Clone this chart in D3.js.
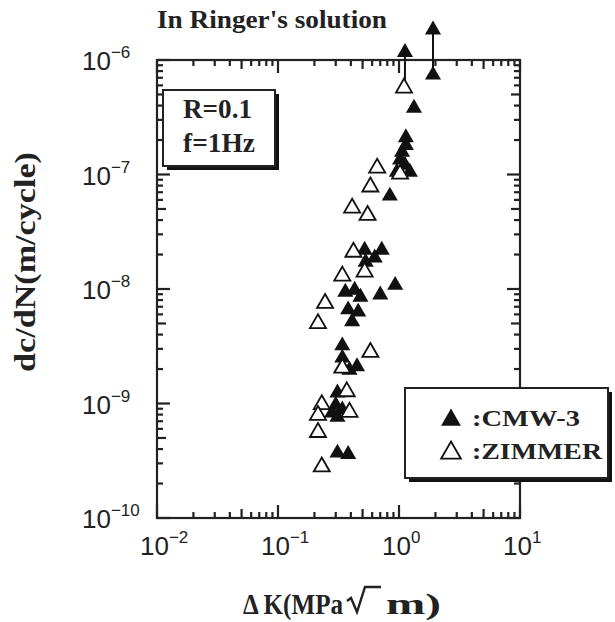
<!DOCTYPE html>
<html>
<head>
<meta charset="utf-8">
<script src="https://cdn.jsdelivr.net/npm/d3@7"></script>
<style>
    body { margin: 0; background: #fff; }
    svg { display: block; }
</style>
</head>
<body>
<svg id="chart" width="615" height="622"></svg>
<script>
/*
 * da/dN vs Delta K plot, log-log
 * CMW-3 (filled) and ZIMMER (open) cements in Ringer's solution
 */

// Delta K (MPa sqrt m) and dc/dN (m/cycle), CMW-3
var cmwK = [1.33, 1.14, 1.14, 1.06, 1.02, 1.12, 0.96, 1.23, 0.84, 1.91,
    0.52, 0.72, 0.53, 0.63, 0.93, 0.70, 0.36, 0.43, 0.48, 0.38,
    0.46, 0.41, 0.34, 0.34, 0.45, 0.39, 0.31, 0.30, 0.34, 0.28,
    0.31, 0.31, 0.38];
var cmwRate = [3.8e-7, 2.1e-7, 1.8e-7, 1.57e-7, 1.34e-7, 1.21e-7, 1.05e-7, 1.05e-7, 6.5e-8, 7.4e-7,
    2.19e-8, 2.19e-8, 1.72e-8, 1.87e-8, 1.08e-8, 8.9e-9, 9.4e-9, 9.8e-9, 8.5e-9, 6.6e-9,
    6.3e-9, 5.2e-9, 3.2e-9, 2.5e-9, 2.1e-9, 1.96e-9, 1.24e-9, 9.7e-10, 8.8e-10, 8.3e-10,
    7.6e-10, 3.7e-10, 3.6e-10];

// run-out arrows (CMW-3): K, rate at base, rate at tip
var arrowK = [1.12, 1.91];
var arrowFrom = [6.7e-7, 7.4e-7];
var arrowTo = [1.4e-6, 2.2e-6];

// ZIMMER
var zimK = [1.10, 1.02, 0.66, 0.58, 0.41, 0.55, 0.42, 0.52, 0.34, 0.245,
    0.214, 0.58, 0.34, 0.37, 0.23, 0.39, 0.214, 0.214, 0.23];
var zimRate = [5.7e-7, 1.01e-7, 1.14e-7, 7.8e-8, 5.1e-8, 4.4e-8, 2.1e-8, 1.41e-8, 1.3e-8, 7.5e-9,
    5.0e-9, 2.8e-9, 2.04e-9, 1.27e-9, 9.8e-10, 8.4e-10, 7.9e-10, 5.6e-10, 2.8e-10];

// tick decades
var xDecades = [-2, -1, 0, 1];
var yDecades = [-10, -9, -8, -7, -6];

var LEFT = 157, RIGHT = 520, TOP = 60, BOTTOM = 518;
var SERIF = "'Liberation Serif', 'Times New Roman', serif";
var SANS = "'Liberation Sans', Arial, Helvetica, sans-serif";

var svg = d3.select("#chart");

var x = d3.scaleLog().domain([1e-2, 1e1]).range([LEFT, RIGHT]);
var y = d3.scaleLog().domain([1e-10, 1e-6]).range([BOTTOM, TOP]);

/**
 * Build tick list {v, len} for a log axis
 * @param {Array} decades - list of exponents
 */
function logTicks(decades) {
    var arr = [];
    for (var i = 0; i < decades.length; i++) {
        var base = Math.pow(10, decades[i]);
        arr.push({ v: base, len: 13 });
        if (i === decades.length - 1) break;
        for (var m = 2; m <= 9; m++) {
            arr.push({ v: m * base, len: m === 5 ? 9 : 6 });
        }
    }
    return arr;
}

var xTicks = logTicks(xDecades);
var yTicks = logTicks(yDecades);

/**
 * Inward ticks on all four sides, drawn as thin filled bars
 */
function drawTicks() {
    var g = svg.append("g").attr("fill", "#222");
    g.selectAll(".xb").data(xTicks).enter().append("rect")
        .attr("x", function (d) { return x(d.v) - 1.1; })
        .attr("y", function (d) { return BOTTOM - d.len; })
        .attr("width", 2.2)
        .attr("height", function (d) { return d.len; });
    g.selectAll(".xt").data(xTicks).enter().append("rect")
        .attr("x", function (d) { return x(d.v) - 1.1; })
        .attr("y", TOP)
        .attr("width", 2.2)
        .attr("height", function (d) { return d.len; });
    g.selectAll(".yl").data(yTicks).enter().append("rect")
        .attr("x", LEFT)
        .attr("y", function (d) { return y(d.v) - 1.1; })
        .attr("width", function (d) { return d.len; })
        .attr("height", 2.2);
    g.selectAll(".yr").data(yTicks).enter().append("rect")
        .attr("x", function (d) { return RIGHT - d.len; })
        .attr("y", function (d) { return y(d.v) - 1.1; })
        .attr("width", function (d) { return d.len; })
        .attr("height", 2.2);
}

drawTicks();

svg.append("rect")
    .attr("x", LEFT).attr("y", TOP)
    .attr("width", RIGHT - LEFT).attr("height", BOTTOM - TOP)
    .attr("fill", "none").attr("stroke", "#222").attr("stroke-width", 2.2);

// tick labels 10^n
xDecades.forEach(function (d) {
    var t = svg.append("text")
        .attr("x", x(Math.pow(10, d)) - 17).attr("y", 555)
        .attr("font-family", SANS).attr("fill", "#222");
    t.append("tspan").attr("font-size", 26).text("10");
    t.append("tspan").attr("font-size", 17).attr("dy", -12)
        .text(d < 0 ? "\u2212" + (-d) : d);
});
yDecades.forEach(function (d) {
    var t = svg.append("text")
        .attr("x", 82).attr("y", y(Math.pow(10, d)) + 10)
        .attr("font-family", SANS).attr("fill", "#222");
    t.append("tspan").attr("font-size", 26).text("10");
    t.append("tspan").attr("font-size", 17).attr("dy", -12)
        .text("\u2212" + (-d));
});

// axis titles
svg.append("text")
    .attr("transform", "translate(35,262) rotate(-90)")
    .attr("text-anchor", "middle")
    .attr("font-family", SERIF).attr("font-weight", "bold").attr("font-size", 30)
    .attr("textLength", 220).attr("lengthAdjust", "spacingAndGlyphs")
    .attr("fill", "#222")
    .text("dc/dN(m/cycle)");

svg.append("text")
    .attr("x", 243).attr("y", 614)
    .attr("font-family", SERIF).attr("font-weight", "bold").attr("font-size", 30)
    .attr("textLength", 100).attr("lengthAdjust", "spacingAndGlyphs")
    .attr("fill", "#222")
    .text("\u0394 K(MPa");

// radical sign with its bar, drawn as a path
var root = d3.path();
root.moveTo(347, 601);
root.lineTo(351, 598);
root.lineTo(357, 612);
root.lineTo(365, 587);
root.lineTo(381, 587);
svg.append("path")
    .attr("d", root.toString())
    .attr("fill", "none")
    .attr("stroke", "#222").attr("stroke-width", 2.4)
    .attr("stroke-linejoin", "miter");

svg.append("text")
    .attr("x", 386).attr("y", 614)
    .attr("font-family", SERIF).attr("font-weight", "bold").attr("font-size", 30)
    .attr("textLength", 55).attr("lengthAdjust", "spacingAndGlyphs")
    .attr("fill", "#222")
    .text("m)");

svg.append("text")
    .attr("x", 157).attr("y", 28)
    .attr("font-family", SERIF).attr("font-weight", "bold").attr("font-size", 25)
    .attr("textLength", 230).attr("lengthAdjust", "spacingAndGlyphs")
    .attr("fill", "#222")
    .text("In Ringer's solution");

/**
 * Draw a box with a drop shadow
 */
function shadowBox(bx, by, bw, bh) {
    svg.append("rect").attr("x", bx + 4).attr("y", by + 4)
        .attr("width", bw).attr("height", bh).attr("fill", "#111");
    svg.append("rect").attr("x", bx).attr("y", by)
        .attr("width", bw).attr("height", bh)
        .attr("fill", "#fff").attr("stroke", "#222").attr("stroke-width", 2);
}

function boxText(tx, ty, size, len, str) {
    svg.append("text")
        .attr("x", tx).attr("y", ty)
        .attr("font-family", SERIF).attr("font-weight", "bold").attr("font-size", size)
        .attr("textLength", len).attr("lengthAdjust", "spacingAndGlyphs")
        .attr("fill", "#222")
        .text(str);
}

shadowBox(163, 90, 112, 76);
boxText(183, 118, 27, 69, "R=0.1");
boxText(183, 152, 27, 72, "f=1Hz");

// markers
var tri = d3.symbol().type(d3.symbolTriangle).size(112);

// run-out arrows
arrowK.forEach(function (k, i) {
    svg.append("line")
        .attr("x1", x(k)).attr("x2", x(k))
        .attr("y1", y(arrowFrom[i])).attr("y2", y(arrowTo[i]) + 8)
        .attr("stroke", "#111").attr("stroke-width", 2);
    svg.append("path")
        .attr("d", tri)
        .attr("transform", "translate(" + x(k) + "," + (y(arrowTo[i]) + 9) + ")")
        .attr("fill", "#111");
});

svg.append("g").selectAll("path")
    .data(cmwK)
    .enter().append("path")
    .attr("d", tri)
    .attr("transform", function (d, i) { return "translate(" + x(d) + "," + y(cmwRate[i]) + ")"; })
    .attr("fill", "#111");

svg.append("g").selectAll("path")
    .data(zimK)
    .enter().append("path")
    .attr("d", tri)
    .attr("transform", function (d, i) { return "translate(" + x(d) + "," + y(zimRate[i]) + ")"; })
    .attr("fill", "#fff").attr("stroke", "#111").attr("stroke-width", 1.8);

// legend
shadowBox(405, 388, 203, 90);
var legTri = d3.symbol().type(d3.symbolTriangle).size(170);
svg.append("path").attr("d", legTri)
    .attr("transform", "translate(451,420)").attr("fill", "#111");
svg.append("path").attr("d", legTri)
    .attr("transform", "translate(451,453)")
    .attr("fill", "#fff").attr("stroke", "#111").attr("stroke-width", 1.8);
boxText(472, 426, 24, 108, ":CMW-3");
boxText(472, 459, 24, 130, ":ZIMMER");
</script>
</body>
</html>
